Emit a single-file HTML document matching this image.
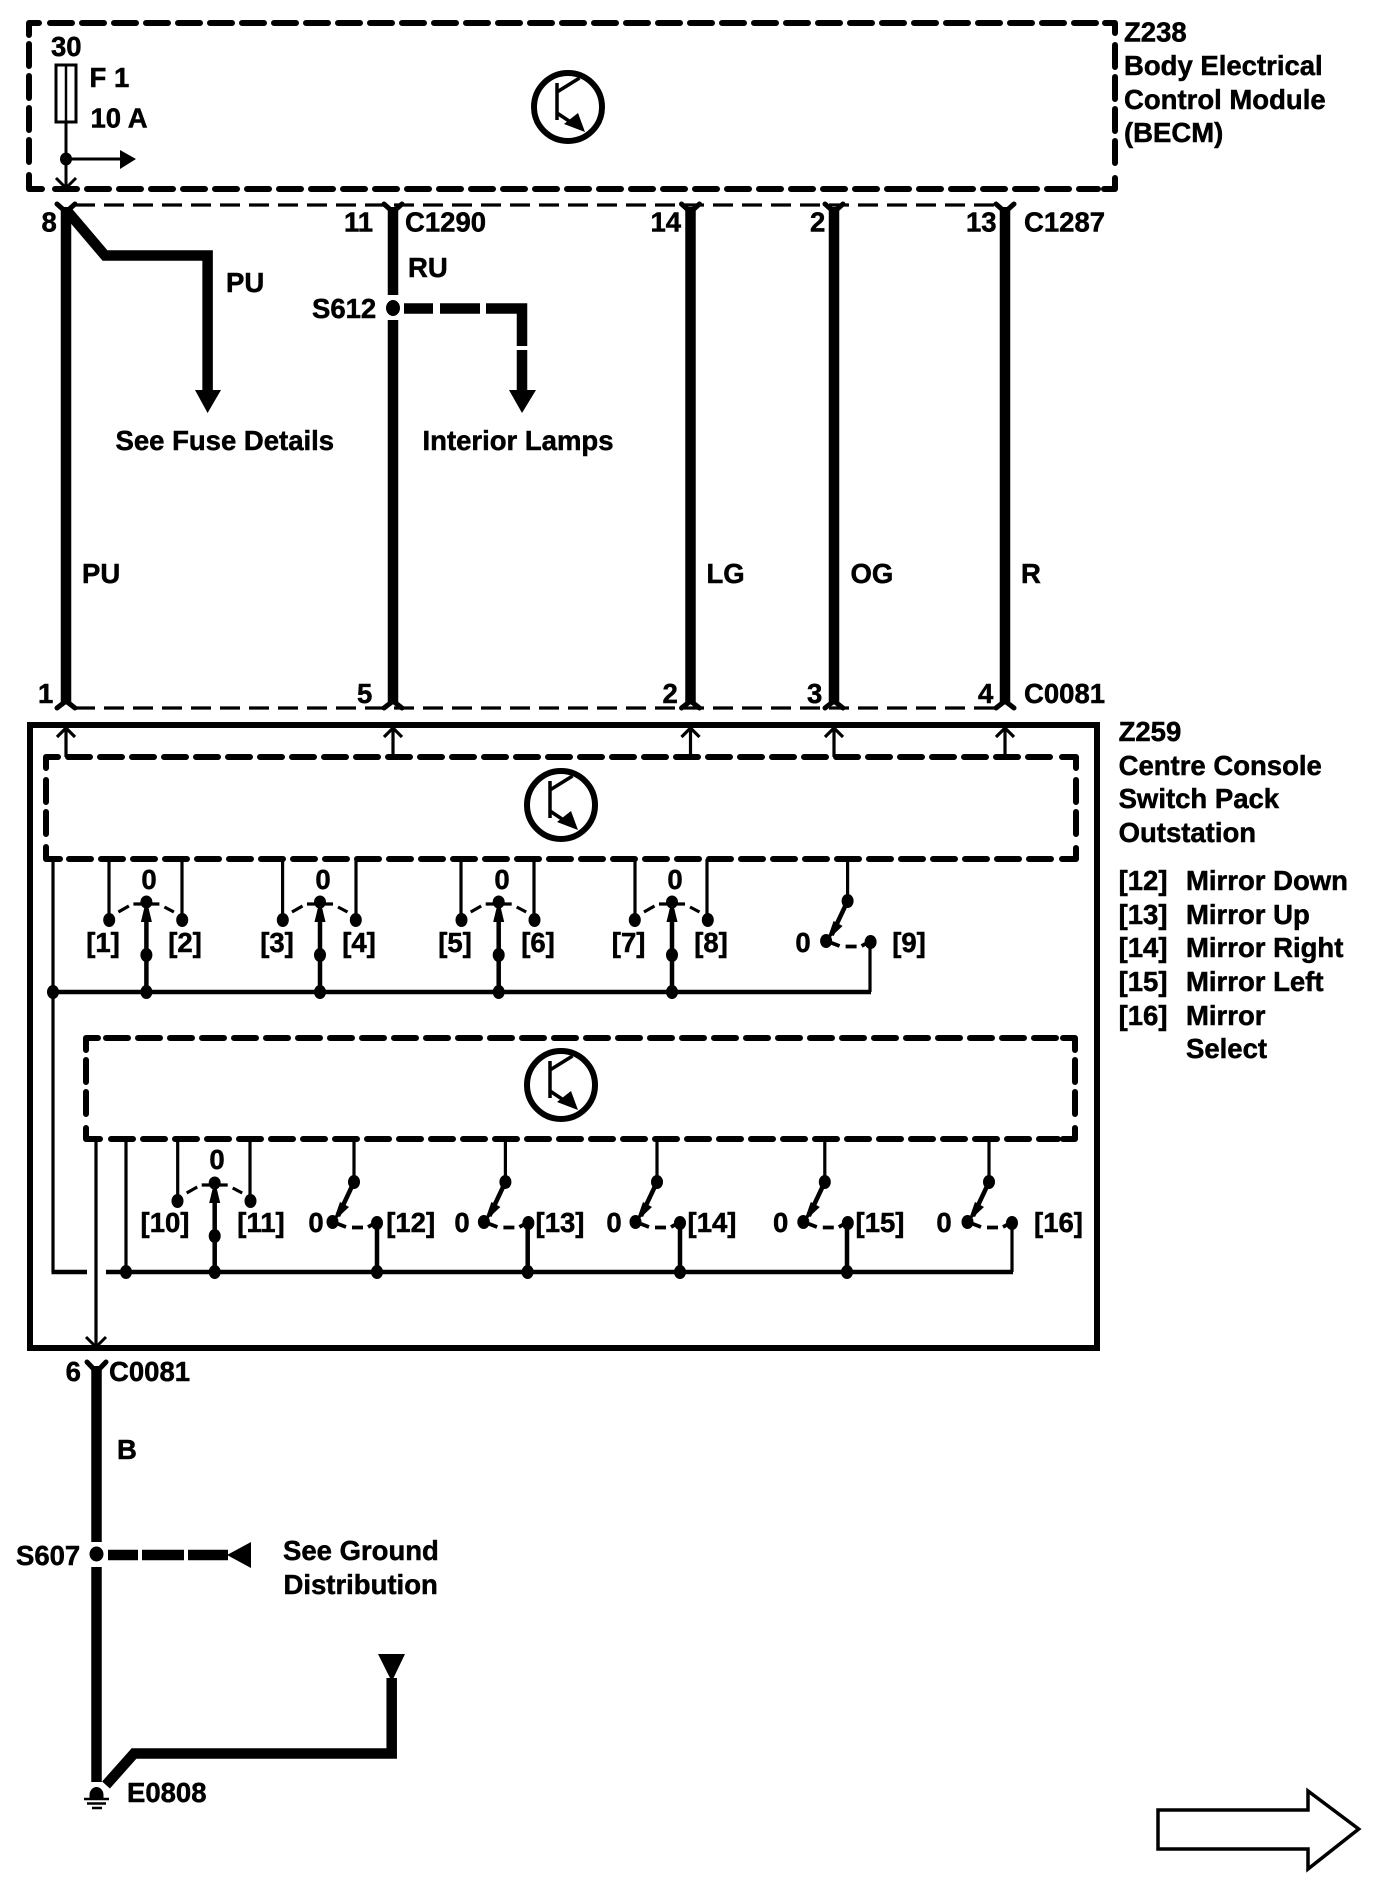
<!DOCTYPE html>
<html lang="en">
<head>
<meta charset="utf-8">
<title>Z238 BECM / Z259 Centre Console Switch Pack wiring diagram</title>
<style>
html,body{margin:0;padding:0;background:#fff}
svg{display:block}
text{font-family:"Liberation Sans",sans-serif;font-weight:700;font-size:27.5px;fill:#000;stroke:#000;stroke-width:.5}
.m{text-anchor:middle}
.w{fill:none;stroke:#000;stroke-width:10.5}
.t{fill:none;stroke:#000;stroke-width:3.2}
.d{fill:none;stroke:#000;stroke-width:6;stroke-dasharray:22 10;stroke-linecap:round}
.c{fill:none;stroke:#000;stroke-width:6;stroke-linecap:round;stroke-linejoin:round}
.k{fill:none;stroke:#000;stroke-width:3.2;stroke-dasharray:20 9}
.f{fill:none;stroke:#000;stroke-width:5;stroke-linecap:round;stroke-linejoin:round}
.b{fill:none;stroke:#000;stroke-width:4.5}
</style>
</head>
<body>
<svg xmlns="http://www.w3.org/2000/svg" width="1392" height="1886" viewBox="0 0 1392 1886">
<defs>
<g id="tr">
<circle r="34" fill="none" stroke="#000" stroke-width="6"/>
<path d="M-11-24V13" fill="none" stroke="#000" stroke-width="3.5"/>
<path d="M-11-15L11.500-29M-11 6L10 20" fill="none" stroke="#000" stroke-width="3.5"/>
<path d="M17 25L-4 17L10 6Z"/>
</g>
<g id="up"><path d="M-9 9L0 0L9 9M0 0V29" fill="none" stroke="#000" stroke-width="3.2"/></g>
<g id="sw3">
<path d="M-28 10L-17.500 4M-13 2H13M18 5L27.500 10" fill="none" stroke="#000" stroke-width="3.200"/>
<ellipse cx="0" cy="0" rx="6" ry="6.500"/>
<path d="M0-3L5.500 20H-5.500Z"/>
<path d="M0 10V53" fill="none" stroke="#000" stroke-width="4.500"/>
<ellipse cx="0" cy="53" rx="6" ry="7"/>
<ellipse cx="-37.200" cy="18" rx="6" ry="7"/>
<ellipse cx="35.800" cy="18" rx="6" ry="7"/>
</g>
<g id="sw2">
<ellipse cx="0" cy="0" rx="6" ry="7"/>
<path d="M0 0L-16 34" fill="none" stroke="#000" stroke-width="4.500"/>
<path d="M-21 40L-14 20L-5 25Z"/>
<ellipse cx="-21.500" cy="40" rx="6" ry="7"/>
<path d="M-21 40L-8 45M-2 45.500H9M14 45L23 40" fill="none" stroke="#000" stroke-width="3.800"/>
<ellipse cx="23" cy="41" rx="6" ry="7"/>
</g>
<ellipse id="j" rx="6" ry="7"/>
</defs>

<rect width="1392" height="1886" fill="#fff"/>

<!-- BECM dashed box -->
<path class="c" d="M29 35V23H39"/>
<path class="c" d="M1105 23H1115V33"/>
<path class="c" d="M29 175V189H42"/>
<path class="c" d="M1104 189H1115V178"/>
<path class="d" d="M50 23H1098"/>
<path class="d" d="M55 189H1098"/>
<path class="d" d="M29 44V170"/>
<path class="d" d="M1115 45V172"/>

<!-- fuse -->
<rect x="56" y="65" width="20" height="57" fill="#fff" stroke="#000" stroke-width="3"/>
<path d="M66 65V122" fill="none" stroke="#000" stroke-width="2.500"/>
<path d="M66 122V187" fill="none" stroke="#000" stroke-width="3"/>
<path d="M56 178L66 188L76 178" fill="none" stroke="#000" stroke-width="3"/>
<ellipse cx="66" cy="159" rx="6" ry="6.500"/>
<path d="M66 159H122" fill="none" stroke="#000" stroke-width="3"/>
<path d="M120 150L136 159L120 169Z"/>
<use href="#tr" x="568" y="107"/>

<!-- top connectors -->
<path class="k" d="M75 205H996"/>
<path class="k" d="M75 708H996"/>

<!-- main wires -->
<path class="w" d="M66 207V704"/>
<path class="w" d="M393 207V295M393 320V704"/>
<path class="w" d="M690.500 207V704"/>
<path class="w" d="M834 207V704"/>
<path class="w" d="M1005 207V704"/>
<path class="f" d="M57 204L66 212L75 204M384 204L393 212L402 204M681.500 204L690.500 212L699.500 204M825 204L834 212L843 204M996 204L1005 212L1014 204"/>
<path class="f" d="M57 708L66 701L75 708M384 708L393 701L402 708M681.500 708L690.500 701L699.500 708M825 708L834 701L843 708M996 708L1005 701L1014 708"/>

<!-- PU branch -->
<path class="w" d="M68 212L105 255.500H207.600V392"/>
<path d="M195 390H221L207.600 413Z"/>

<!-- S612 branch -->
<ellipse cx="393" cy="308" rx="7" ry="8"/>
<path class="w" d="M404 308.500H433M440 308.500H480M486 308.500H522V346M522 350V392"/>
<path d="M509 390H536L522 413Z"/>

<!-- Z259 box -->
<rect x="30" y="725" width="1067" height="623" fill="none" stroke="#000" stroke-width="6"/>
<use href="#up" x="66" y="728"/>
<use href="#up" x="393" y="728"/>
<use href="#up" x="690.500" y="728"/>
<use href="#up" x="834" y="728"/>
<use href="#up" x="1005" y="728"/>

<!-- box A -->
<path class="c" d="M46 768V757H58"/>
<path class="c" d="M1062 757H1076V768"/>
<path class="c" d="M46 847V859H60"/>
<path class="c" d="M1062 859H1076V848"/>
<path class="d" d="M68 757H1058"/>
<path class="d" d="M69 859H1058"/>
<path class="d" d="M46 780V836"/>
<path class="d" d="M1076 780V838"/>
<use href="#tr" x="561" y="805"/>

<!-- box B -->
<path class="c" d="M86 1050V1038H98"/>
<path class="c" d="M1063 1038H1075V1050"/>
<path class="c" d="M86 1128V1139H100"/>
<path class="c" d="M1063 1139H1075V1128"/>
<path class="d" d="M106 1038H1058"/>
<path class="d" d="M111 1139H1058"/>
<path class="d" d="M86 1060V1120"/>
<path class="d" d="M1075 1060V1120"/>
<use href="#tr" x="561" y="1085"/>

<!-- bus 1 -->
<path class="t" d="M53 859V1272"/>
<path class="b" d="M51.500 1272H87"/>
<path class="b" d="M53 992H871"/>
<path class="t" d="M870 992V942"/>
<use href="#j" x="53" y="992"/>
<use href="#j" x="146.400" y="992"/>
<use href="#j" x="320" y="992"/>
<use href="#j" x="498.700" y="992"/>
<use href="#j" x="672" y="992"/>
<path class="b" d="M146.400 955V992M320 955V992M498.700 955V992M672 955V992"/>

<!-- drops box A -->
<path class="t" d="M109 859V920M182 859V920M282.600 859V920M356 859V920M461 859V920M534 859V920M635 859V920M707 859V920M847.600 859V901"/>
<use href="#sw3" x="146.400" y="902"/>
<use href="#sw3" x="320" y="902"/>
<use href="#sw3" x="498.700" y="902"/>
<use href="#sw3" x="672" y="902"/>
<use href="#sw2" x="847.600" y="901"/>

<!-- bus 2 -->
<path class="b" d="M106 1272H1013"/>
<path class="t" d="M1012 1272V1222"/>
<path class="t" d="M96 1139V1345M126 1139V1272M177.700 1139V1201M250 1139V1201M354 1139V1182M505.400 1139V1182M657 1139V1182M824.800 1139V1182M989 1139V1182"/>
<path d="M86 1337L96 1347L106 1337" fill="none" stroke="#000" stroke-width="3"/>
<use href="#j" x="126" y="1272"/>
<use href="#j" x="214.700" y="1272"/>
<use href="#j" x="377" y="1272"/>
<use href="#j" x="527.700" y="1272"/>
<use href="#j" x="680" y="1272"/>
<use href="#j" x="847" y="1272"/>
<path class="b" d="M214.700 1236V1272M377 1222V1272M527.700 1222V1272M680 1222V1272M847 1222V1272"/>
<use href="#sw3" x="214.700" y="1183"/>
<use href="#sw2" x="354" y="1182"/>
<use href="#sw2" x="505.400" y="1182"/>
<use href="#sw2" x="657" y="1182"/>
<use href="#sw2" x="824.800" y="1182"/>
<use href="#sw2" x="989" y="1182"/>

<!-- lower wire -->
<path class="f" d="M87 1362L96.500 1372L106 1362"/>
<path class="w" d="M96.500 1366V1542M96.500 1567V1782"/>
<ellipse cx="96.500" cy="1554" rx="7" ry="7.500"/>
<path class="w" d="M108 1555H138M142 1555H184M188 1555H228"/>
<path d="M227 1555L251 1542V1568Z"/>
<path class="w" d="M106 1785L134 1753.500H391.700V1678"/>
<path d="M378 1654H405L393.500 1678H390Z"/>
<path d="M89.500 1799V1795A7 8 0 0 1 103.500 1795V1799Z"/>
<path d="M84 1799H109M87 1803.500H106M92 1808H102" fill="none" stroke="#000" stroke-width="2.500"/>

<!-- outline arrow -->
<path d="M1158 1810H1308V1791L1358.700 1829L1308 1869V1849H1158Z" fill="#fff" stroke="#000" stroke-width="3.500"/>

<!-- text -->
<text x="51" y="56">30</text>
<text x="89.500" y="87">F 1</text>
<text x="90.500" y="127.600">10 A</text>
<text x="1124" y="41.700">Z238</text>
<text x="1124" y="75">Body Electrical</text>
<text x="1124" y="109">Control Module</text>
<text x="1124" y="142">(BECM)</text>
<text x="41.500" y="231.500">8</text>
<text x="344" y="231.500">11</text>
<text x="405" y="231.500">C1290</text>
<text x="650.500" y="231.500">14</text>
<text x="810" y="231.500">2</text>
<text x="966" y="231.500">13</text>
<text x="1024" y="231.500">C1287</text>
<text x="408" y="277">RU</text>
<text x="226" y="292">PU</text>
<text x="312" y="318">S612</text>
<text x="115.500" y="450">See Fuse Details</text>
<text x="422.500" y="450">Interior Lamps</text>
<text x="82" y="583">PU</text>
<text x="706.500" y="583">LG</text>
<text x="850.500" y="583">OG</text>
<text x="1021" y="583">R</text>
<text x="38" y="703">1</text>
<text x="357" y="703">5</text>
<text x="662.500" y="703">2</text>
<text x="807" y="703">3</text>
<text x="978" y="703">4</text>
<text x="1024" y="703">C0081</text>

<text x="1118.600" y="741">Z259</text>
<text x="1118.600" y="775">Centre Console</text>
<text x="1118.600" y="808">Switch Pack</text>
<text x="1118.600" y="842">Outstation</text>
<text x="1118.600" y="890">[12]</text><text x="1186" y="890">Mirror Down</text>
<text x="1118.600" y="924">[13]</text><text x="1186" y="924">Mirror Up</text>
<text x="1118.600" y="957">[14]</text><text x="1186" y="957">Mirror Right</text>
<text x="1118.600" y="991">[15]</text><text x="1186" y="991">Mirror Left</text>
<text x="1118.600" y="1025">[16]</text><text x="1186" y="1025">Mirror</text>
<text x="1186" y="1058">Select</text>

<text class="m" x="149" y="889">0</text>
<text class="m" x="323" y="889">0</text>
<text class="m" x="502" y="889">0</text>
<text class="m" x="675" y="889">0</text>
<text class="m" x="803" y="952">0</text>
<text class="m" x="103" y="952">[1]</text>
<text class="m" x="185" y="952">[2]</text>
<text class="m" x="277" y="952">[3]</text>
<text class="m" x="359" y="952">[4]</text>
<text class="m" x="455" y="952">[5]</text>
<text class="m" x="538" y="952">[6]</text>
<text class="m" x="628.600" y="952">[7]</text>
<text class="m" x="711" y="952">[8]</text>
<text class="m" x="909" y="952">[9]</text>

<text class="m" x="217" y="1169">0</text>
<text class="m" x="165" y="1232">[10]</text>
<text class="m" x="261" y="1232">[11]</text>
<text class="m" x="316" y="1232">0</text>
<text class="m" x="410.700" y="1232">[12]</text>
<text class="m" x="462" y="1232">0</text>
<text class="m" x="560" y="1232">[13]</text>
<text class="m" x="614" y="1232">0</text>
<text class="m" x="712" y="1232">[14]</text>
<text class="m" x="780.600" y="1232">0</text>
<text class="m" x="880" y="1232">[15]</text>
<text class="m" x="944" y="1232">0</text>
<text class="m" x="1058.500" y="1232">[16]</text>

<text x="65.600" y="1381">6</text>
<text x="109" y="1381">C0081</text>
<text x="117" y="1459">B</text>
<text x="16" y="1565">S607</text>
<text x="283" y="1560">See Ground</text>
<text x="283.500" y="1594">Distribution</text>
<text x="127" y="1802">E0808</text>
</svg>
</body>
</html>
